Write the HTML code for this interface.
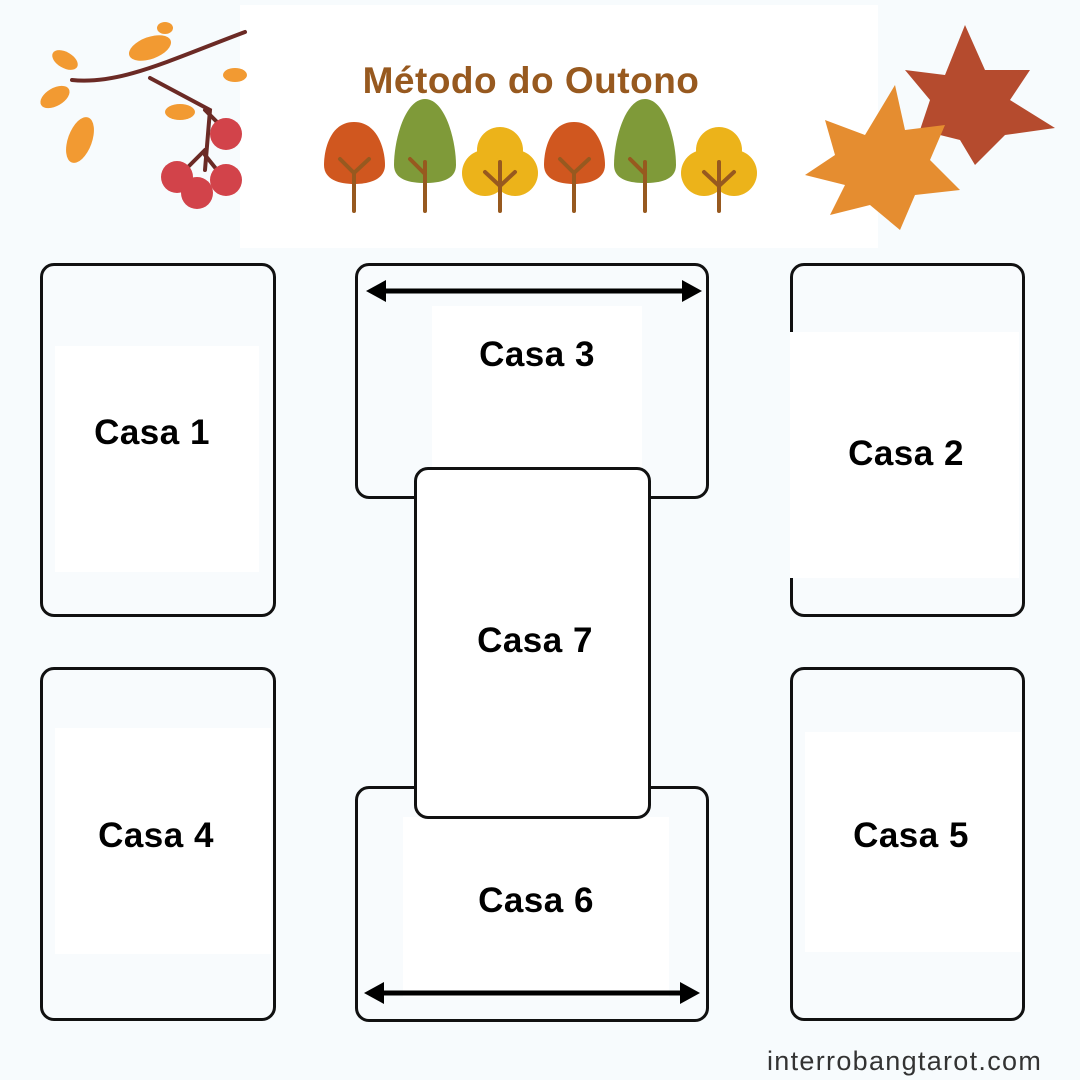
<!DOCTYPE html>
<html><head><meta charset="utf-8"><style>
body{margin:0;width:1080px;height:1080px;background:#f7fbfd;position:relative;overflow:hidden;font-family:"Liberation Sans",sans-serif}
.c{position:absolute;border:3px solid #111;border-radius:14px;background:#f8fbfd;box-sizing:border-box}
.in{position:absolute;background:#fff}
.t{position:absolute;font-weight:bold;font-size:35px;color:#000;transform:translate(-50%,-50%);white-space:nowrap;letter-spacing:0.5px}
</style></head><body>
<div style="position:absolute;left:240px;top:5px;width:638px;height:243px;background:#fff"></div>
<div class="t" style="left:531px;top:81px;font-size:37px;color:#97591f">Método do Outono</div>
<svg style="position:absolute;left:0;top:0" width="1080" height="260">
<g>
<path d="M354 122 C330 122 324 150 324 165 C324 180 340 184 354 184 C368 184 385 180 385 165 C385 150 378 122 354 122Z" fill="#d0571f"/>
<path d="M425 99 C405 99 394 140 394 165 C394 180 410 183 425 183 C440 183 456 180 456 165 C456 140 445 99 425 99Z" fill="#7f9a39"/>
<g fill="#ecb31a"><circle cx="500" cy="150" r="23"/><circle cx="485" cy="173" r="23"/><circle cx="515" cy="173" r="23"/></g>
<path d="M574 122 C550 122 544 150 544 165 C544 180 560 184 574 184 C588 184 605 180 605 165 C605 150 598 122 574 122Z" fill="#d0571f"/>
<path d="M645 99 C625 99 614 140 614 165 C614 180 630 183 645 183 C660 183 676 180 676 165 C676 140 665 99 645 99Z" fill="#7f9a39"/>
<g fill="#ecb31a"><circle cx="719" cy="150" r="23"/><circle cx="704" cy="173" r="23"/><circle cx="734" cy="173" r="23"/></g>
<g stroke="#97591f" stroke-width="4" stroke-linecap="round" fill="none">
<path d="M354 211V173M340 159L354 173L369 159"/>
<path d="M425 211V162M410 159L425 174"/>
<path d="M500 211V162M485 172L500 186L515 172"/>
<path d="M574 211V173M560 159L574 173L589 159"/>
<path d="M645 211V162M630 159L645 174"/>
<path d="M719 211V162M704 172L719 186L734 172"/>
</g>
</g>
<g stroke="#6b2a25" stroke-width="4" fill="none" stroke-linecap="round">
<path d="M72 80 C120 85 170 60 245 32"/><path d="M150 78 L210 110 L205 170"/><path d="M205 110 L225 130"/><path d="M205 150 L180 175"/><path d="M205 155 L225 180"/>
</g>
<g fill="#f29a32">
<ellipse cx="150" cy="48" rx="22" ry="11" transform="rotate(-20 150 48)"/>
<ellipse cx="65" cy="60" rx="14" ry="8" transform="rotate(30 65 60)"/>
<ellipse cx="55" cy="97" rx="16" ry="9" transform="rotate(-30 55 97)"/>
<ellipse cx="80" cy="140" rx="12" ry="24" transform="rotate(20 80 140)"/>
<ellipse cx="180" cy="112" rx="15" ry="8"/>
<ellipse cx="235" cy="75" rx="12" ry="7"/>
<ellipse cx="165" cy="28" rx="8" ry="6"/>
</g>
<g fill="#d2434a"><circle cx="226" cy="134" r="16"/><circle cx="177" cy="177" r="16"/><circle cx="226" cy="180" r="16"/><circle cx="197" cy="193" r="16"/></g>
<path d="M965 25 L985 70 L1030 70 L1010 100 L1055 128 L1005 135 L975 165 L960 140 L920 130 L930 100 L905 70 L945 75Z" fill="#b54b2e"/>
<path d="M895 85 L905 130 L945 125 L930 160 L960 190 L915 195 L900 230 L870 205 L830 215 L845 185 L805 175 L835 155 L825 120 L865 135Z" fill="#e58d30"/>
</svg>

<div class="c" style="left:40px;top:263px;width:236px;height:354px"><div class="in" style="left:12px;top:80px;width:204px;height:226px"></div></div>
<div class="c" style="left:790px;top:263px;width:235px;height:354px"><div class="in" style="left:-3px;top:66px;width:229px;height:246px"></div></div>
<div class="c" style="left:40px;top:667px;width:236px;height:354px"><div class="in" style="left:12px;top:58px;width:216px;height:226px"></div></div>
<div class="c" style="left:790px;top:667px;width:235px;height:354px"><div class="in" style="left:12px;top:62px;width:216px;height:220px"></div></div>
<div class="c" style="left:355px;top:263px;width:354px;height:236px"><div class="in" style="left:74px;top:40px;width:210px;height:190px"></div></div>
<div class="c" style="left:355px;top:786px;width:354px;height:236px"><div class="in" style="left:45px;top:28px;width:266px;height:180px"></div></div>
<div class="c" style="left:414px;top:467px;width:237px;height:352px;background:#fff"></div>

<svg style="position:absolute;left:0;top:0" width="1080" height="1080">
<g stroke="#000" stroke-width="5"><line x1="380" y1="291" x2="688" y2="291"/><line x1="378" y1="993" x2="686" y2="993"/></g>
<g fill="#000"><path d="M366 291L386 280L386 302Z"/><path d="M702 291L682 280L682 302Z"/><path d="M364 993L384 982L384 1004Z"/><path d="M700 993L680 982L680 1004Z"/></g>
</svg>

<div class="t" style="left:152px;top:433px">Casa 1</div>
<div class="t" style="left:906px;top:454px">Casa 2</div>
<div class="t" style="left:537px;top:355px">Casa 3</div>
<div class="t" style="left:156px;top:836px">Casa 4</div>
<div class="t" style="left:911px;top:836px">Casa 5</div>
<div class="t" style="left:536px;top:901px">Casa 6</div>
<div class="t" style="left:535px;top:641px">Casa 7</div>
<div style="position:absolute;left:767px;top:1046px;font-size:27px;color:#333;letter-spacing:1.3px">interrobangtarot.com</div>
</body></html>
